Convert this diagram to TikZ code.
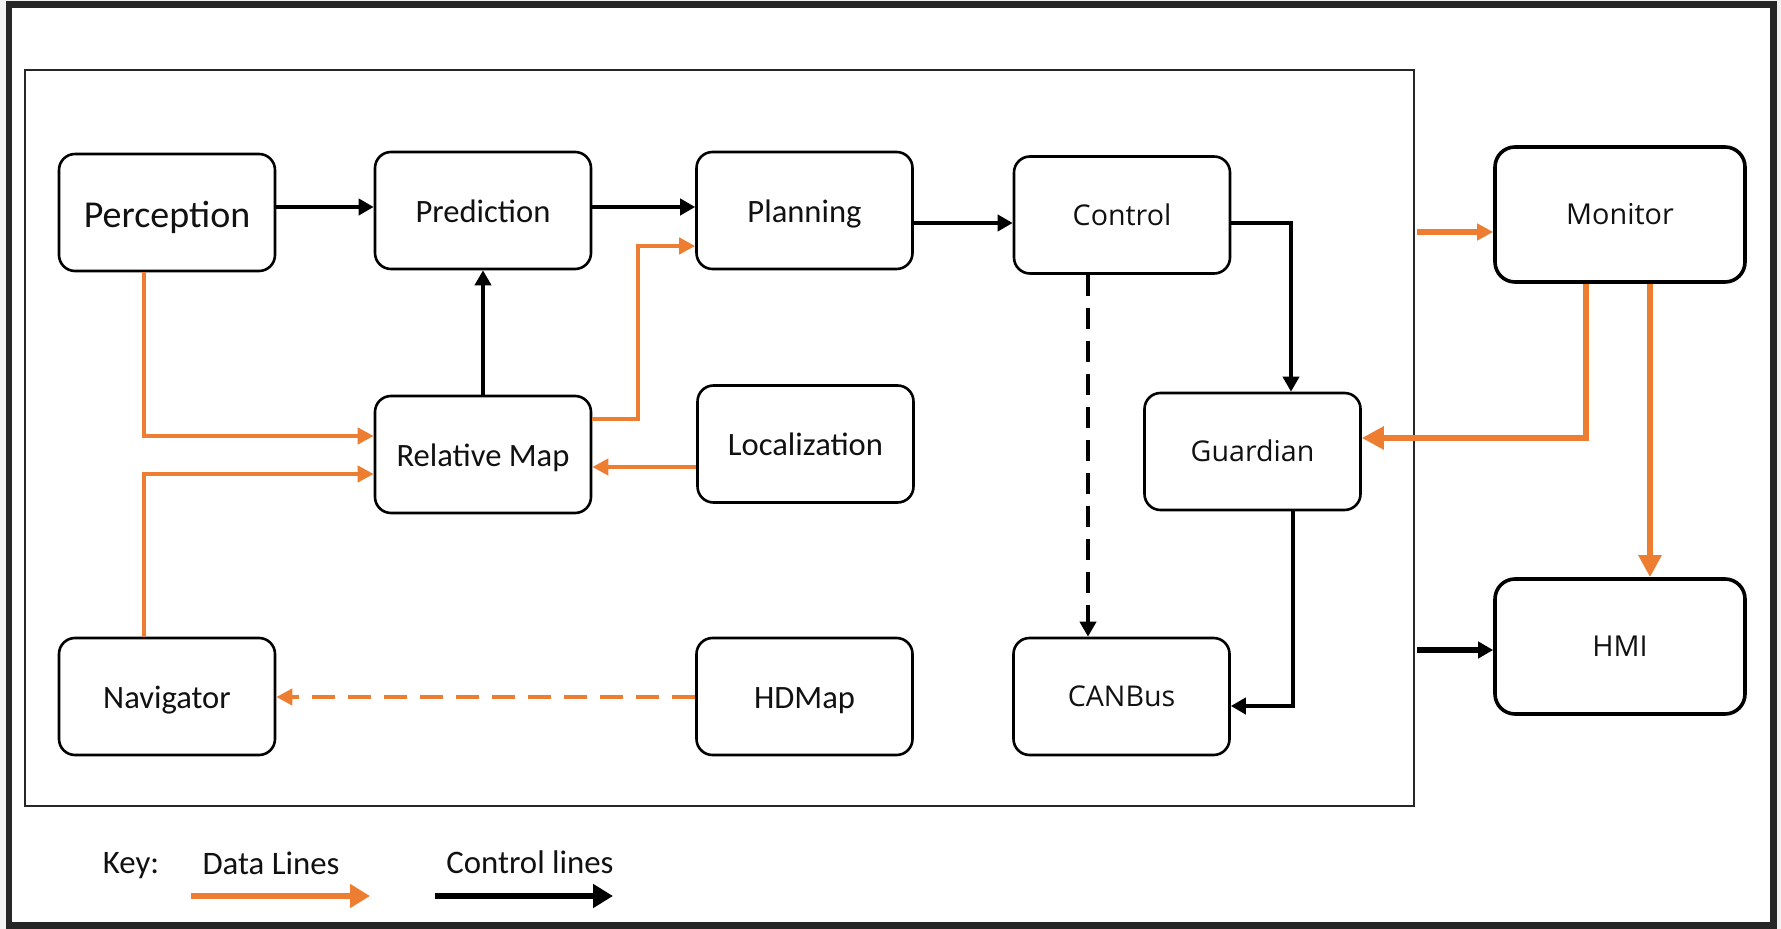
\documentclass[tikz,border=0pt]{standalone}
\usepackage{fontspec}
\setmainfont{Carlito}
\newfontfamily\osans{Open Sans}
\usetikzlibrary{arrows.meta}
\definecolor{dataor}{HTML}{ED7D31}
\definecolor{framegray}{HTML}{262626}
\definecolor{outgray}{HTML}{F2F2F2}
\definecolor{txt}{HTML}{111111}
\tikzset{
  modbox/.style={draw=black, line width=1.3pt, rounded corners=8pt, fill=white,
    minimum width=108pt, minimum height=58.5pt, inner sep=0pt, text=txt,
    text height=0pt, text depth=0pt,
    font=\fontsize{16.3}{19}\selectfont},
  modboxos/.style={modbox, font=\osans\fontsize{14.3}{17}\selectfont},
  bigbox/.style={modbox, line width=1.8pt, rounded corners=10pt,
    minimum width=125pt, minimum height=67.5pt, font=\osans\fontsize{14.4}{17}\selectfont},
  ctl/.style={draw=black, line width=2.4pt, -{Triangle[length=7.5pt,width=8pt]}},
  dat/.style={draw=dataor, line width=2.3pt, -{Triangle[length=8pt,width=8pt]}},
  datthick/.style={draw=dataor, line width=2.9pt, -{Triangle[length=11pt,width=11pt]}},
  dashdat/.style={dash pattern=on 11.5pt off 6.5pt},
  dashctl/.style={dash pattern=on 10.5pt off 6pt},
  keytext/.style={inner sep=0pt, text=txt, font=\fontsize{16.4}{19}\selectfont},
}
% place a label's baseline the given distance below the box centre
\newcommand{\setbase}[2]{\raisebox{-#1}{#2}}
\begin{document}
\begin{tikzpicture}[x=0.5pt,y=-0.5pt]
\useasboundingbox (0,0) rectangle (1781,929);
% page and frames
\fill[outgray] (0,0) rectangle (1781,929);
\draw[framegray, line width=3.3pt, fill=white] (9,4.5) rectangle (1773.5,925.5);
\draw[framegray, line width=1pt] (25,70) rectangle (1414,806);

% modules
\node[modbox, font=\fontsize{19}{22}\selectfont] (perc) at (167,212.5) {\setbase{7.5pt}{Perception}};
\node[modbox] (pred) at (483,210.5) {\setbase{6pt}{Prediction}};
\node[modbox] (plan) at (804.5,210.5) {\setbase{6pt}{Planning}};
\node[modboxos] (ctrl) at (1122,215) {\setbase{5.2pt}{Control}};
\node[modbox] (relmap) at (483,454.5) {\setbase{6pt}{Relative Map}};
\node[modbox] (loc) at (805.5,444) {\setbase{5.8pt}{Localization}};
\node[modboxos] (guard) at (1252.5,451.5) {\setbase{5.2pt}{Guardian}};
\node[modbox] (nav) at (167,696.5) {\setbase{6pt}{Navigator}};
\node[modbox] (hdmap) at (804.5,696.5) {\setbase{6pt}{HDMap}};
\node[modboxos] (canbus) at (1121.5,696.5) {\setbase{5.2pt}{CANBus}};
\node[bigbox] (monitor) at (1620,214.5) {\setbase{5pt}{Monitor}};
\node[bigbox] (hmi) at (1620,646.5) {\setbase{5pt}{HMI}};

% control lines
\draw[ctl] (perc.east |- 0,207) -- (pred.west |- 0,207);
\draw[ctl] (pred.east |- 0,207) -- (plan.west |- 0,207);
\draw[ctl] (plan.east |- 0,223) -- (ctrl.west |- 0,223);
\draw[ctl] (ctrl.east |- 0,223) -| (1291,0 |- guard.north);
\draw[ctl, dashctl] (1088,0 |- ctrl.south) -- (1088,0 |- canbus.north);
\draw[ctl] (1293,0 |- guard.south) |- (canbus.east |- 0,706);
\draw[ctl] (relmap.north) -- (pred.south);
\coordinate (hmiin) at (1417,650);
\draw[ctl, line width=2.8pt] (hmiin) -- (hmi.west |- hmiin);

% data lines
\draw[dat] (144,0 |- perc.south) |- (relmap.west |- 0,436);
\draw[dat] (144,0 |- nav.north) |- (relmap.west |- 0,474);
\draw[dat] (relmap.east |- 0,419) -- (638,419) -- (638,246) -- (plan.west |- 0,246);
\draw[dat] (loc.west |- 0,467) -- (relmap.east |- 0,467);
\draw[dat, dashdat] (hdmap.west |- 0,697) -- (nav.east |- 0,697);
\coordinate (monin) at (1417,232);
\draw[dat, line width=2.8pt] (monin) -- (monitor.west |- monin);
\draw[datthick] (1586,0 |- monitor.south) |- (guard.east |- 0,438);
\draw[datthick] (1650,0 |- monitor.south) -- (1650,0 |- hmi.north);

% key
\node[keytext] (keylbl) at (131,866) {Key:};
\node[keytext] (keydata) at (271,863) {Data Lines};
\node[keytext] (keyctl) at (530,862) {Control lines};
\coordinate (kd0) at (191,896);
\coordinate (kd1) at (370,896);
\coordinate (kc0) at (435,896);
\coordinate (kc1) at (613,896);
\draw[draw=dataor, line width=3pt, -{Triangle[length=10pt,width=11.5pt]}] (kd0) -- (kd1);
\draw[draw=black, line width=3pt, -{Triangle[length=10pt,width=11.5pt]}] (kc0) -- (kc1);
\end{tikzpicture}
\end{document}
